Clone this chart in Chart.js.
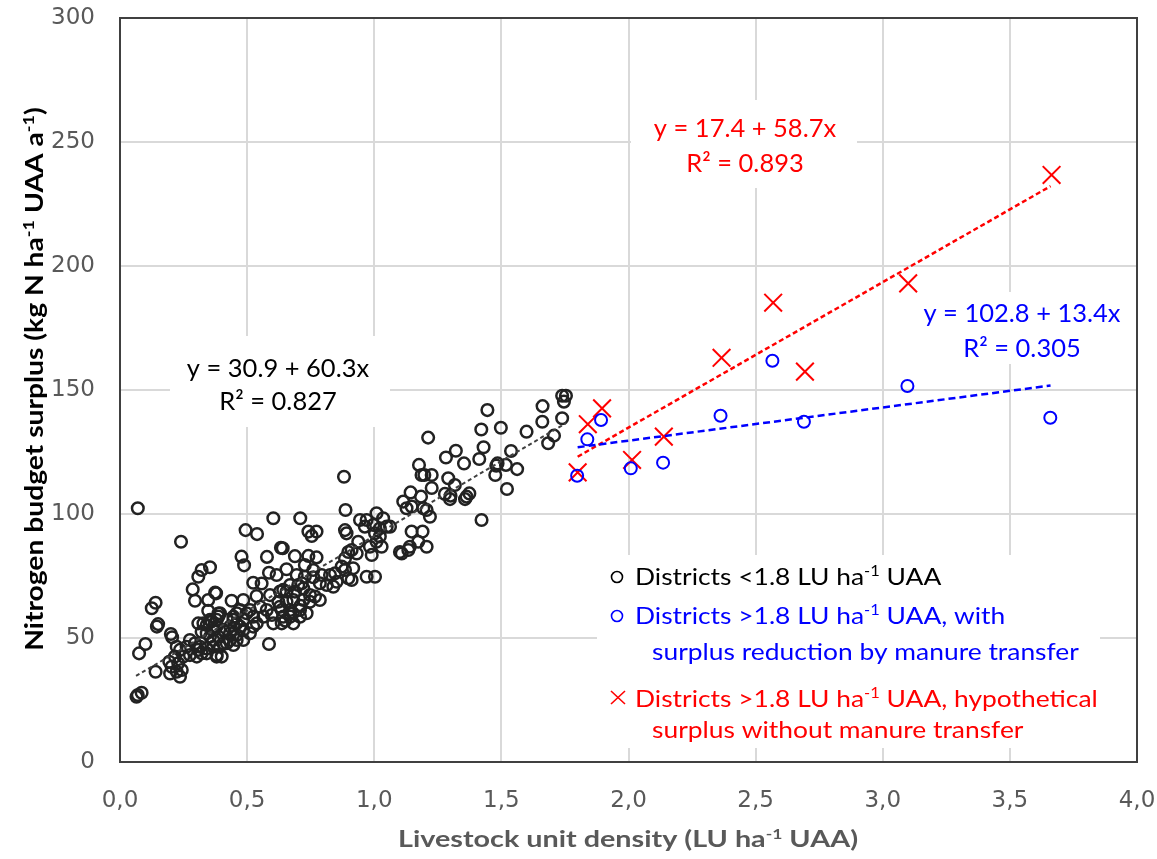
<!DOCTYPE html>
<html>
<head>
<meta charset="utf-8">
<script src="https://cdn.jsdelivr.net/npm/chart.js@4.4.1/dist/chart.umd.min.js"></script>
<style>
  html, body { margin: 0; padding: 0; background: #fff; }
</style>
</head>
<body>
<canvas id="chart" width="1157" height="859"></canvas>
<script>
// ================================
// DATA
// ================================
const xTicks = [0, 0.5, 1, 1.5, 2, 2.5, 3, 3.5, 4];
const yTicks = [0, 50, 100, 150, 200, 250, 300];

// districts < 1.8 LU/ha (black open circles)
const lowDensity = [
  [0.07,102.3],[0.24,88.8],[0.07,27.0],[0.085,27.9],[0.065,26.3],[0.14,36.4],[0.075,43.8],
  [0.10,47.6],[0.14,64.2],[0.125,62.0],[0.15,55.6],[0.145,54.6],[0.20,51.6],[0.205,50.3],
  [0.494,93.5],[0.539,91.9],[0.603,98.3],[0.709,98.3],[0.633,86.4],[0.578,82.7],[0.478,82.8],
  [0.488,79.3],[0.688,83.0],
  [0.354,78.5],[0.321,77.4],[0.308,74.7],[0.286,69.6],[0.295,65.0],[0.347,65.3],[0.378,68.0],
  [0.439,65.0],[0.347,61.0],[0.387,59.9],
  [0.524,72.3],[0.557,72.0],[0.586,76.3],[0.616,75.4],[0.655,77.7],[0.695,75.4],[0.586,47.6],
  [0.374,68.3],[0.485,65.3],[0.537,66.9],[0.590,67.3],[0.629,68.7],[0.655,68.7],[0.623,64.6],
  [0.682,65.3],[0.721,65.3],[0.708,61.3],[0.669,61.3],
  [0.308,55.9],[0.321,52.5],[0.341,55.2],[0.367,53.2],[0.380,57.3],[0.393,60.0],[0.360,56.6],
  [0.354,50.5],[0.387,50.5],[0.413,52.5],[0.433,54.6],[0.446,57.3],[0.459,60.0],[0.472,54.6],
  [0.433,49.2],[0.459,49.2],[0.406,47.8],[0.367,46.5],[0.380,42.5],[0.400,42.5],[0.341,45.8],
  [0.308,45.2],[0.295,47.9],[0.275,49.2],[0.262,46.5],[0.236,45.2],[0.223,46.5],[0.216,42.5],
  [0.249,42.5],[0.275,43.1],[0.302,42.5],[0.321,43.8],[0.229,39.8],[0.203,38.4],[0.223,36.4],
  [0.243,37.1],[0.236,34.4],[0.194,40.4],[0.197,35.7],
  [0.328,55.9],[0.354,57.3],[0.387,58.6],[0.380,54.6],[0.420,57.3],[0.446,58.6],[0.459,55.9],
  [0.485,57.3],[0.498,60.0],[0.524,58.6],[0.538,55.9],[0.564,58.6],[0.577,61.3],[0.597,59.3],
  [0.603,55.9],[0.642,58.6],[0.636,55.9],[0.669,58.6],[0.682,55.9],[0.708,58.6],[0.734,60.0],
  [0.629,62.6],[0.551,62.6],[0.511,61.3],[0.472,61.3],[0.406,53.2],[0.433,51.9],[0.459,51.2],
  [0.485,53.2],[0.511,51.9],[0.341,51.9],[0.367,49.2],[0.393,46.5],[0.420,47.9],[0.446,47.2],
  [0.315,46.5],[0.341,43.8],[0.380,43.1],[0.485,49.2],[0.524,54.6],
  [0.65,57.0],[0.68,60.0],[0.71,63.0],
  [0.881,115.0],[0.887,101.6],[0.741,92.9],[0.773,92.9],[0.754,91.1],[0.885,93.5],[0.891,92.2],
  [0.944,97.6],[0.970,97.6],[1.009,100.3],[1.035,98.3],[0.963,94.9],[0.996,95.6],[1.022,94.2],
  [1.049,94.9],[1.003,92.2],[1.022,90.9],[1.009,88.8],[1.029,86.8],[0.937,88.8],
  [0.911,85.5],[0.931,84.1],[0.898,84.7],[0.885,82.1],[0.990,83.5],[0.640,86.2],[0.741,83.1],
  [0.773,82.5],
  [0.727,79.4],[0.760,77.4],[0.727,74.7],[0.760,74.5],[0.793,75.4],[0.826,75.4],[0.846,76.1],
  [0.872,78.8],[0.885,77.4],[0.917,78.1],[0.852,72.7],[0.898,74.1],[0.911,73.4],[0.813,71.4],
  [0.839,70.7],[0.786,72.1],[0.970,74.7],[1.003,74.7],
  [0.701,71.4],[0.715,72.1],[0.721,70.0],[0.747,67.3],[0.767,66.7],[0.786,65.3],[0.747,64.6],
  [0.669,71.4],[0.688,68.7],[0.642,69.4],[0.655,64.6],[0.636,61.3],[0.669,59.9],
  [1.212,130.8],[1.176,119.8],[1.186,115.7],[1.197,115.7],[1.143,108.7],[1.184,107.0],
  [1.114,105.0],[1.127,102.3],[1.147,103.0],[1.193,102.3],[1.219,98.9],[1.206,101.6],
  [1.422,97.6],[1.062,94.9],[0.983,86.8],
  [1.147,92.9],[1.190,92.9],[1.173,88.8],[1.206,86.8],[1.140,86.8],[1.101,84.7],[1.134,85.5],
  [1.108,84.1],
  [1.739,147.7],[1.754,147.7],[1.746,145.3],[1.662,143.5],[1.445,141.9],[1.661,137.2],
  [1.739,138.6],[1.421,134.1],[1.498,134.8],[1.599,133.2],[1.707,131.6],[1.684,128.5],
  [1.430,126.9],[1.538,125.4],[1.321,125.5],[1.282,122.8],[1.353,120.4],[1.413,122.2],
  [1.485,120.4],[1.480,119.5],[1.518,119.8],[1.562,118.1],[1.476,115.7],[1.522,110.1],
  [1.291,114.4],[1.317,111.7],[1.278,108.1],[1.300,107.4],[1.298,106.0],[1.357,106.0],
  [1.374,108.3],[1.363,107.0],[1.226,115.7],[1.226,110.5]
];

// districts > 1.8 LU/ha, with manure transfer (blue circles)
const withTransfer = [
  [1.798,115.4],[1.838,130.1],[1.892,137.9],[2.009,118.4],[2.136,120.7],
  [2.362,139.6],[2.566,161.8],[2.690,137.2],[3.097,151.6],[3.659,138.8]
];

// districts > 1.8 LU/ha, hypothetical without transfer (red crosses)
const withoutTransfer = [
  [1.800,116.8],[1.840,136.2],[1.896,142.6],[2.014,121.8],[2.139,131.2],
  [2.366,163.0],[2.569,185.2],[2.694,157.4],[3.100,193.0],[3.664,236.7]
];

// trend line end points
const trendLow     = [[0.063, 34.7], [1.755, 136.7]];
const trendWith    = [[1.80, 126.9], [3.66, 151.8]];
const trendWithout = [[1.80, 123.1], [3.66, 232.2]];

const toXY = arr => arr.map(p => ({ x: p[0], y: p[1] }));

// ================================
// TEXT HELPERS
// ================================
const textFont = "Lato, 'Open Sans', sans-serif";

// "ha^{-1}" -> [{t:'ha'},{t:'-1',sup:true}]
function parseRich(str) {
  const parts = [];
  const re = /\^\{([^}]*)\}/g;
  let last = 0, m;
  while ((m = re.exec(str))) {
    if (m.index > last) parts.push({ t: str.slice(last, m.index), sup: false });
    parts.push({ t: m[1], sup: true });
    last = re.lastIndex;
  }
  if (last < str.length) parts.push({ t: str.slice(last), sup: false });
  return parts;
}

function drawRich(ctx, str, x, y, o) {
  const size = o.size, weight = o.weight || "normal", sx = o.sx || 1;
  const parts = parseRich(str);
  const font = p => `${weight} ${p.sup ? Math.round(size * 0.62) : size}px ${textFont}`;
  let w = 0;
  parts.forEach(p => { ctx.font = font(p); p.w = ctx.measureText(p.t).width; w += p.w; });
  ctx.save();
  ctx.translate(x, y);
  ctx.scale(sx, 1);
  let cx = o.align === "center" ? -w / 2 : 0;
  ctx.fillStyle = o.color;
  ctx.textBaseline = "alphabetic";
  ctx.textAlign = "left";
  parts.forEach(p => {
    ctx.font = font(p);
    ctx.fillText(p.t, cx, p.sup ? -size * 0.36 : 0);
    cx += p.w;
  });
  ctx.restore();
}

// ---- ANNOTATIONS, LEGEND, AXIS TITLES ----
const decorPlugin = {
  id: "decor",
  beforeDatasetsDraw(chart) {
    const ctx = chart.ctx;
    const a = chart.chartArea;

    // white boxes over the grid
    ctx.fillStyle = "#fff";
    ctx.fillRect(170, 336, 220, 91);
    ctx.fillRect(631, 100, 226, 88);
    ctx.fillRect(902, 292, 232, 72);
    ctx.fillRect(597, 555, 503, 193);

    // plot frame
    ctx.strokeStyle = "#404040";
    ctx.lineWidth = 2;
    ctx.strokeRect(a.left, a.top, a.right - a.left, a.bottom - a.top);

    const ann = { size: 25, align: "center", sx: 1.02 };
    drawRich(ctx, "y = 30.9 + 60.3x", 278, 377, { ...ann, color: "#000" });
    drawRich(ctx, "R² = 0.827", 278, 410, { ...ann, color: "#000" });
    drawRich(ctx, "y = 17.4 + 58.7x", 745, 137, { ...ann, color: "#ff0000" });
    drawRich(ctx, "R² = 0.893", 745, 172, { ...ann, color: "#ff0000" });
    drawRich(ctx, "y = 102.8 + 13.4x", 1022, 322, { ...ann, color: "#0000ff" });
    drawRich(ctx, "R² = 0.305", 1022, 357, { ...ann, color: "#0000ff" });

    // legend
    const lg = { size: 24, sx: 1.1 };
    ctx.lineWidth = 1.6;
    ctx.strokeStyle = "#000";
    ctx.beginPath(); ctx.arc(617, 577, 5.5, 0, Math.PI * 2); ctx.stroke();
    ctx.strokeStyle = "#0000ff";
    ctx.beginPath(); ctx.arc(617, 616, 5.5, 0, Math.PI * 2); ctx.stroke();
    ctx.strokeStyle = "#ff0000";
    ctx.beginPath();
    ctx.moveTo(611, 691); ctx.lineTo(625, 704);
    ctx.moveTo(625, 691); ctx.lineTo(611, 704);
    ctx.stroke();
    drawRich(ctx, "Districts <1.8 LU ha^{-1} UAA", 635, 585, { ...lg, color: "#000" });
    drawRich(ctx, "Districts >1.8 LU ha^{-1} UAA, with", 635, 624, { ...lg, color: "#0000ff" });
    drawRich(ctx, "surplus reduction by manure transfer", 652, 660, { ...lg, color: "#0000ff" });
    drawRich(ctx, "Districts >1.8 LU ha^{-1} UAA, hypothetical", 635, 707, { ...lg, color: "#ff0000" });
    drawRich(ctx, "surplus without manure transfer", 652, 738, { ...lg, color: "#ff0000" });

    // axis titles
    drawRich(ctx, "Livestock unit density (LU ha^{-1} UAA)", 628, 847,
      { size: 23, weight: "bold", align: "center", color: "#595959", sx: 1.25 });
    ctx.save();
    ctx.translate(43, 379);
    ctx.rotate(-Math.PI / 2);
    drawRich(ctx, "Nitrogen budget surplus (kg N ha^{-1} UAA a^{-1})", 0, 0,
      { size: 25, weight: "bold", align: "center", color: "#000", sx: 1.13 });
    ctx.restore();
  }
};

// ================================
// CHART
// ================================
const tickFont = { family: "'DejaVu Sans', sans-serif", size: 23 };

new Chart(document.getElementById("chart"), {
  type: "scatter",
  data: {
    datasets: [
      { type: "line", data: toXY(trendLow), borderColor: "#404040", borderWidth: 2,
        borderDash: [4, 3], pointRadius: 0, order: 0 },
      { type: "line", data: toXY(trendWith), borderColor: "#0000ff", borderWidth: 2.5,
        borderDash: [7, 4], pointRadius: 0, order: 0 },
      { type: "line", data: toXY(trendWithout), borderColor: "#ff0000", borderWidth: 2.5,
        borderDash: [5, 3], pointRadius: 0, order: 0 },
      { label: "Districts <1.8", data: toXY(lowDensity), pointStyle: "circle",
        pointRadius: 5.8, borderWidth: 2.5, borderColor: "#222",
        backgroundColor: "rgba(0,0,0,0)", order: 2 },
      { label: "Districts >1.8 with", data: toXY(withTransfer), pointStyle: "circle",
        pointRadius: 6, borderWidth: 2, borderColor: "#0000ff",
        backgroundColor: "rgba(0,0,0,0)", order: 1 },
      { label: "Districts >1.8 without", data: toXY(withoutTransfer), pointStyle: "crossRot",
        pointRadius: 12.5, borderWidth: 2, borderColor: "#ff0000", order: 1 }
    ]
  },
  options: {
    responsive: false,
    animation: false,
    devicePixelRatio: 1,
    layout: { padding: { top: 18, right: 20, left: 0, bottom: 0 } },
    plugins: { legend: { display: false }, tooltip: { enabled: false } },
    scales: {
      x: {
        type: "linear", min: 0, max: 4,
        afterBuildTicks: s => { s.ticks = xTicks.map(v => ({ value: v })); },
        afterFit: s => { s.height = 97; s.paddingLeft = 0; s.paddingRight = 0; },
        ticks: { font: tickFont, color: "#595959", padding: 25,
                 callback: v => v.toFixed(1).replace(".", ",") },
        grid: { color: "#d9d9d9", lineWidth: 2, drawTicks: false },
        border: { display: true, color: "#404040", width: 2 }
      },
      y: {
        type: "linear", min: 0, max: 300,
        afterBuildTicks: s => { s.ticks = yTicks.map(v => ({ value: v })); },
        afterFit: s => { s.width = 120; s.paddingTop = 0; s.paddingBottom = 0; },
        ticks: { font: tickFont, color: "#595959", padding: 25 },
        grid: { color: "#d9d9d9", lineWidth: 2, drawTicks: false },
        border: { display: true, color: "#404040", width: 2 }
      }
    }
  },
  plugins: [decorPlugin]
});
</script>
</body>
</html>
